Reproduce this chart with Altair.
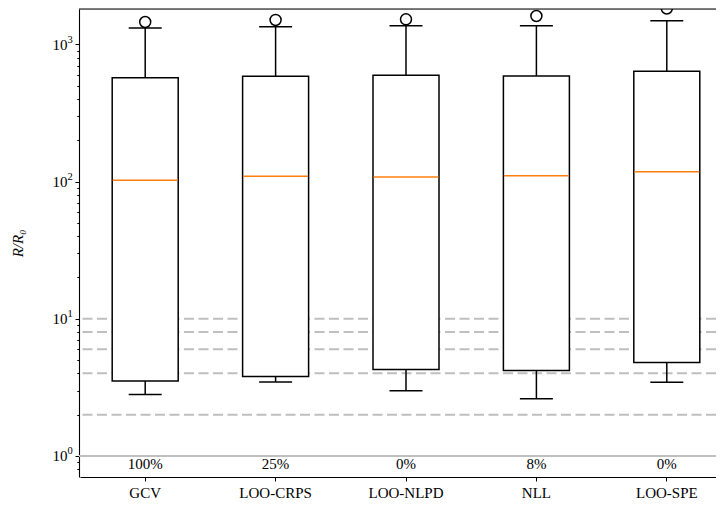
import altair as alt
import pandas as pd

methods = ["GCV", "LOO-CRPS", "LOO-NLPD", "NLL", "LOO-SPE"]
q1 = [3.52, 3.80, 4.26, 4.20, 4.79]
median = [102, 109, 108, 110, 118]
q3 = [571, 585, 594, 587, 636]
whislo = [2.81, 3.46, 2.99, 2.61, 3.44]
whishi = [1314, 1344, 1366, 1366, 1486]
outliers = [1453, 1503, 1520, 1607, 1823]
percent = ["100%", "25%", "0%", "8%", "0%"]
percent_y = 0.875

dashed_levels = [2, 4, 6, 8, 10]
solid_levels = [1]
major_ticks = [1, 10, 100, 1000]
minor_ticks = [0.8, 0.9, 2, 3, 4, 5, 6, 7, 8, 9, 20, 30, 40, 50, 60, 70, 80, 90,
               200, 300, 400, 500, 600, 700, 800, 900]

y_domain = [0.703, 1807]
FONT = "Liberation Serif"
GRAY = "#bfbfbf"

box_df = pd.DataFrame({"method": methods, "q1": q1, "median": median, "q3": q3,
                       "lo": whislo, "hi": whishi, "out": outliers,
                       "pct": percent, "pct_y": [percent_y] * len(methods)})
dash_df = pd.DataFrame({"v": dashed_levels})
solid_df = pd.DataFrame({"v": solid_levels})

xscale = alt.Scale(domain=methods, range=[1, 653], paddingInner=0, paddingOuter=0)
yscale = alt.Scale(type="log", domain=y_domain, nice=False)

base_expr = "indexof([1, 10, 100, 1000], datum.value) >= 0 ? '10' : ''"
exp_expr = "format(log(datum.value) / LN10, '.0f')"
major_test = "indexof([1, 10, 100, 1000], datum.value) >= 0"

yaxis = alt.Axis(values=major_ticks + minor_ticks, labelExpr=base_expr, orient="left",
                 tickSize={"condition": {"test": major_test, "value": 4}, "value": 2.2},
                 tickColor="black", domainColor="black", tickWidth=1, domainWidth=1.1,
                 labelFont=FONT, labelFontSize=15, labelColor="black", labelPadding=8,
                 grid=False, title="R/R₀", titleFont=FONT, titleFontStyle="italic",
                 titleFontWeight="normal", titleFontSize=15, titleColor="black",
                 titlePadding=27, labelOverlap=False)
expaxis = alt.Axis(values=major_ticks, labelExpr=exp_expr, orient="left",
                   ticks=False, tickSize=0, domain=False, grid=False, title=None,
                   labelFont=FONT, labelFontSize=10.5, labelColor="black",
                   labelAlign="left", labelPadding=12, labelOffset=-5, labelOverlap=False)
xaxis = alt.Axis(title=None, labelAngle=0, labelFont=FONT, labelFontSize=15,
                 labelColor="black", tickColor="black", domainColor="black",
                 tickSize=4, domainWidth=1.1, labelPadding=4)

base = alt.Chart(box_df)

dash = alt.Chart(dash_df).mark_rule(color=GRAY, strokeWidth=2, strokeDash=[10, 4.5]).encode(
    y=alt.Y("v:Q", scale=yscale, axis=yaxis))
solid = alt.Chart(solid_df).mark_rule(color=GRAY, strokeWidth=2).encode(
    y=alt.Y("v:Q", scale=yscale, axis=expaxis))

whisk_lo = base.mark_rule(color="black", strokeWidth=1.5).encode(
    x=alt.X("method:N", scale=xscale, axis=xaxis, sort=methods),
    y=alt.Y("lo:Q", scale=yscale, axis=None), y2="q1:Q")
whisk_hi = base.mark_rule(color="black", strokeWidth=1.5).encode(
    x=alt.X("method:N", scale=xscale, sort=methods),
    y=alt.Y("q3:Q", scale=yscale, axis=None), y2="hi:Q")
box = base.mark_bar(size=66, fill="white", stroke="black", strokeWidth=1.5, opacity=1).encode(
    x=alt.X("method:N", scale=xscale, sort=methods),
    y=alt.Y("q1:Q", scale=yscale, axis=None), y2="q3:Q")
cap_lo = base.mark_tick(orient="horizontal", size=33, thickness=1.5, color="black", opacity=1).encode(
    x=alt.X("method:N", scale=xscale, sort=methods), y=alt.Y("lo:Q", scale=yscale, axis=None))
cap_hi = base.mark_tick(orient="horizontal", size=33, thickness=1.5, color="black", opacity=1).encode(
    x=alt.X("method:N", scale=xscale, sort=methods), y=alt.Y("hi:Q", scale=yscale, axis=None))
med = base.mark_tick(orient="horizontal", size=65, thickness=1.5, color="#ff7f0e", opacity=1).encode(
    x=alt.X("method:N", scale=xscale, sort=methods), y=alt.Y("median:Q", scale=yscale, axis=None))
outl = base.mark_point(shape="circle", size=121, filled=False, color="black",
                       strokeWidth=1.5, opacity=1, clip=True).encode(
    x=alt.X("method:N", scale=xscale, sort=methods), y=alt.Y("out:Q", scale=yscale, axis=None))
txt = base.mark_text(font=FONT, fontSize=15, color="black", baseline="middle").encode(
    x=alt.X("method:N", scale=xscale, sort=methods),
    y=alt.Y("pct_y:Q", scale=yscale, axis=None),
    text="pct:N")
top = alt.Chart(solid_df).mark_rule(color="black", strokeWidth=1.1).encode(
    x=alt.value(0), x2=alt.value(653), y=alt.value(0))

chart = alt.layer(dash, solid, whisk_lo, whisk_hi, box, cap_lo, cap_hi, med, outl, txt, top).resolve_axis(
    y="independent"
).properties(
    width=637, height=468,
    padding={"left": 71, "top": 1, "right": 0, "bottom": 27},
    autosize=alt.AutoSizeParams(type="none"),
).configure_view(strokeWidth=0).configure(background="white")

chart.save("out.html", embed_options={"renderer": "svg", "actions": False})
